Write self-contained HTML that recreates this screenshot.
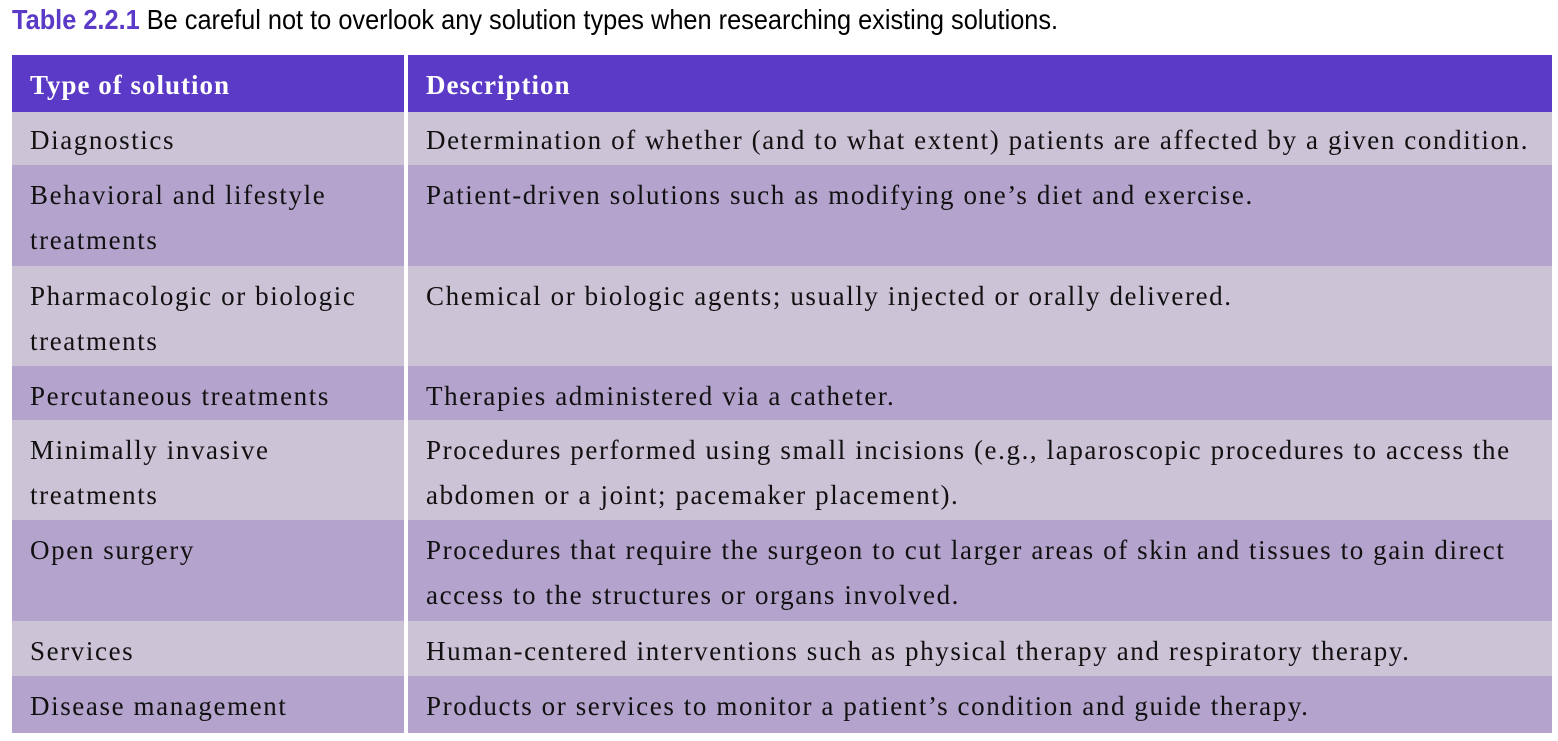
<!DOCTYPE html>
<html><head><meta charset="utf-8"><style>
body{margin:0;width:1558px;height:741px;background:#fff;position:relative;overflow:hidden}
.cap{position:absolute;left:12px;top:4px;font-family:"Liberation Sans",sans-serif;font-size:28px;white-space:nowrap;transform:scaleX(0.905);transform-origin:left top;color:#000}
.cap b{color:#5a3ac6}
.c{position:absolute;box-sizing:border-box;padding:8px 0 0 18px;font-family:"Liberation Serif",serif;font-size:27px;line-height:45px;color:#111;letter-spacing:1.6px;white-space:nowrap}
.h{background:#5a3ac6;color:#fff;font-weight:bold;padding-top:8px;letter-spacing:1px}
.l{background:#cdc3d7}.d{background:#b4a3cc}
.a{left:12px;width:392px}.b{left:408px;width:1144px}
</style></head><body>
<div class="cap"><b>Table 2.2.1</b> Be careful not to overlook any solution types when researching existing solutions.</div>
<div class="c h a" style="top:55px;height:57px">Type of solution</div>
<div class="c h b" style="top:55px;height:57px">Description</div>

<div class="c l a" style="top:112px;height:53px;padding-top:6px">Diagnostics</div>
<div class="c l b" style="top:112px;height:53px;padding-top:6px">Determination of whether (and to what extent) patients are affected by a given condition.</div>

<div class="c d a" style="top:165px;height:101px">Behavioral and lifestyle<br>treatments</div>
<div class="c d b" style="top:165px;height:101px">Patient-driven solutions such as modifying one’s diet and exercise.</div>

<div class="c l a" style="top:266px;height:100px">Pharmacologic or biologic<br>treatments</div>
<div class="c l b" style="top:266px;height:100px">Chemical or biologic agents; usually injected or orally delivered.</div>

<div class="c d a" style="top:366px;height:54px">Percutaneous treatments</div>
<div class="c d b" style="top:366px;height:54px">Therapies administered via a catheter.</div>

<div class="c l a" style="top:420px;height:100px">Minimally invasive<br>treatments</div>
<div class="c l b" style="top:420px;height:100px">Procedures performed using small incisions (e.g., laparoscopic procedures to access the<br>abdomen or a joint; pacemaker placement).</div>

<div class="c d a" style="top:520px;height:101px">Open surgery</div>
<div class="c d b" style="top:520px;height:101px">Procedures that require the surgeon to cut larger areas of skin and tissues to gain direct<br>access to the structures or organs involved.</div>

<div class="c l a" style="top:621px;height:55px">Services</div>
<div class="c l b" style="top:621px;height:55px">Human-centered interventions such as physical therapy and respiratory therapy.</div>

<div class="c d a" style="top:676px;height:57px">Disease management</div>
<div class="c d b" style="top:676px;height:57px">Products or services to monitor a patient’s condition and guide therapy.</div>
</body></html>
